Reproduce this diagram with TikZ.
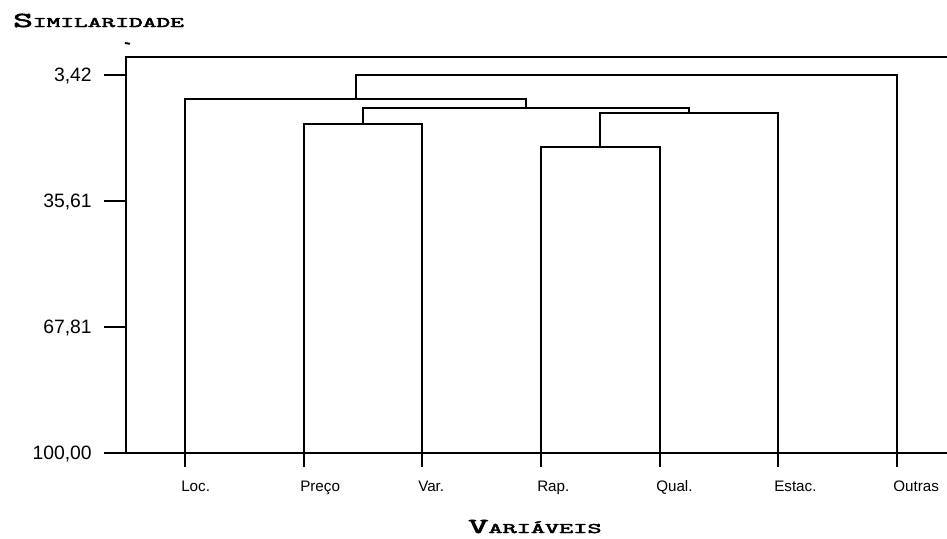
\documentclass[tikz,border=0pt]{standalone}
\usepackage{fontspec}
\usepackage{graphicx}
\setmainfont{Liberation Sans}
\newfontfamily\titlefont{Latin Modern Mono}[FakeBold=2.5]
\newcommand{\capbig}[1]{{\fontsize{16}{16}\selectfont #1}}
\newcommand{\capsmall}[1]{{\fontsize{11}{12}\selectfont #1}}
\begin{document}
\begin{tikzpicture}[x=0.75pt,y=-0.75pt,
  axisline/.style={line width=1pt, black},
  branch/.style={line width=1pt, black},
  ticklabel/.style={anchor=base east, inner sep=0pt, font=\fontsize{14.5}{15}\selectfont},
  leaflabel/.style={anchor=base west, inner sep=0pt, font=\fontsize{11.4}{12}\selectfont},
  axistitle/.style={inner sep=0pt, font=\titlefont}]
\useasboundingbox (0,0) rectangle (947,539);

% frame of the plot area
\draw[axisline] (947,57) -- (126,57) -- (126,453);
\draw[axisline] (104,453) -- (947,453);

% similarity ticks and labels
\foreach \v/\y/\n in {{3,42}/75/ya, {35,61}/201/yb, {67,81}/327/yc, {100,00}/453/yd}{
  \draw[axisline] (104,\y) -- (126,\y);
  \node[ticklabel] (\n) at (92,\y+6.8) {\v};
}

% leaves on the axis
\foreach \x/\n/\t in {185/loc/Loc., 304/preco/Preço, 422/var/Var., 541/rap/Rap., 660/qual/Qual., 778/estac/Estac., 897/outras/Outras}{
  \coordinate (\n) at (\x,453);
  \draw[axisline] (\x,453) -- (\x,467);
  \node[leaflabel] (t\n) at (\x-4,491.5) {\t};
}

% merge points of the dendrogram
\coordinate (m1) at (363,124);
\coordinate (m2) at (600,147);
\coordinate (m3) at (689,113);
\coordinate (m4) at (526,108);
\coordinate (m5) at (356,99);
\coordinate (m6) at (626,75);

% branches
\draw[branch] (preco) |- (m1) -| (var);
\draw[branch] (rap) |- (m2) -| (qual);
\draw[branch] (m2) |- (m3) -| (estac);
\draw[branch] (m1) |- (m4) -| (m3);
\draw[branch] (loc) |- (m5) -| (m4);
\draw[branch] (m5) |- (m6) -| (outras);

% small stray mark above the axis
\draw[line width=1.4pt] (125,43) -- (130,43.8);

% axis titles, stretched wide
\node[axistitle, anchor=base west] (ytitle) at (13,27)
  {\resizebox{128pt}{\height}{\capbig{S}\capsmall{IMILARIDADE}}};
\node[axistitle, anchor=base west] (xtitle) at (468,533)
  {\resizebox{100pt}{\height}{\capbig{V}\capsmall{ARIÁVEIS}}};
\end{tikzpicture}
\end{document}
